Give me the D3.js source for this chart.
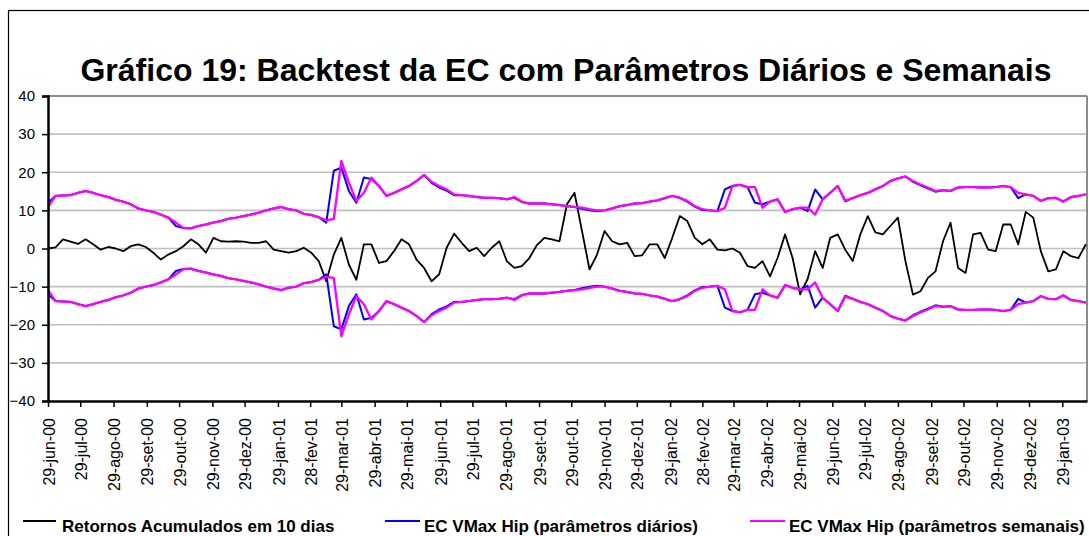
<!DOCTYPE html>
<html>
<head>
<meta charset="utf-8">
<script src="https://cdn.jsdelivr.net/npm/d3@7/dist/d3.min.js"></script>
<style>
  html, body { margin: 0; padding: 0; background: #fff; }
  svg { display: block; }
  text { font-family: "Liberation Sans", Arial, sans-serif; }
</style>
</head>
<body>
<svg id="chart" width="1089" height="536"></svg>
<script>
// ---------------- DATA ----------------
const titleText = "Gráfico 19: Backtest da EC com Parâmetros Diários e Semanais";
const seriesNames = ["Retornos Acumulados em 10 dias", "EC VMax Hip (parâmetros diários)", "EC VMax Hip (parâmetros semanais)"];
const yTicks = [-40, -30, -20, -10, 0, 10, 20, 30, 40];
const tickDates = ["2000-06-29","2000-07-29","2000-08-29","2000-09-29","2000-10-29","2000-11-29","2000-12-29",
  "2001-01-29","2001-02-28","2001-03-29","2001-04-29","2001-05-29","2001-06-29","2001-07-29","2001-08-29",
  "2001-09-29","2001-10-29","2001-11-29","2001-12-29","2002-01-29","2002-02-28","2002-03-29","2002-04-29",
  "2002-05-29","2002-06-29","2002-07-29","2002-08-29","2002-09-29","2002-10-29","2002-11-29","2002-12-29","2003-01-29"];
const tickLabels = ["29-jun-00","29-jul-00","29-ago-00","29-set-00","29-out-00","29-nov-00","29-dez-00",
  "29-jan-01","28-fev-01","29-mar-01","29-abr-01","29-mai-01","29-jun-01","29-jul-01","29-ago-01",
  "29-set-01","29-out-01","29-nov-01","29-dez-01","29-jan-02","28-fev-02","29-mar-02","29-abr-02",
  "29-mai-02","29-jun-02","29-jul-02","29-ago-02","29-set-02","29-out-02","29-nov-02","29-dez-02","29-jan-03"];
const firstDate = "2000-06-29";   // weekly observations
const lastAxisDate = "2003-02-21";
const stepDays = 7;

// Retornos acumulados em 10 dias (weekly readings)
const retornos = [0,0.3,2.4,1.8,1.2,2.4,1.1,-0.3,0.4,0,-0.7,0.6,1.1,0.4,-1.1,-2.9,-1.6,-0.7,0.6,2.4,
  1.1,-1.1,2.8,1.9,1.8,1.9,1.8,1.5,1.5,1.9,-0.3,-0.7,-1.1,-0.7,0.2,-1.1,-3.3,-8.6,-1.6,2.8,
  -4.2,-8.2,1.1,1.1,-3.8,-3.3,-0.7,2.4,1.1,-2.9,-5.1,-8.6,-6.8,0.2,3.9,1.5,-0.7,0.2,-2.0,0.2,
  1.9,-3.3,-5.1,-4.6,-2.5,0.9,2.8,2.4,1.9,11.6,14.6,4.6,-5.5,-1.6,4.6,1.9,1.1,1.5,-2.0,-1.8,
  1.1,1.1,-2.5,2.8,8.5,7.2,2.8,1.1,2.4,-0.3,-0.5,0,-1.1,-4.6,-5.1,-3.3,-7.3,-2.5,3.7,-2.5,
  -12.0,-8.0,-0.7,-5.1,2.8,3.7,-0.3,-3.3,3.7,8.5,4.2,3.7,5.9,8.1,-3.3,-12.1,-11.2,-7.7,-6.0,1.9,
  6.8,-5.1,-6.4,3.7,4.1,-0.3,-0.7,6.3,6.3,1.1,9.6,8.1,-0.7,-6.0,-5.5,-0.7,-2.0,-2.5,1.1];

// EC VMax Hip (parâmetros diários) - upper / lower
const diarioSup = [12.0,13.8,13.9,14.0,14.6,15.1,14.6,14.0,13.5,12.8,12.3,11.6,10.5,10.0,9.6,8.9,8.1,5.9,5.4,5.3,
  5.9,6.3,6.8,7.2,7.8,8.1,8.5,8.9,9.4,10.0,10.5,10.9,10.3,10.0,9.1,8.8,8.2,6.8,20.4,21.2,
  15.1,12.0,18.6,18.2,16.4,13.8,14.6,15.5,16.4,17.7,19.3,17.2,16.0,15.2,14.0,14.0,13.8,13.5,13.3,13.3,
  13.2,12.9,13.3,12.2,11.8,11.8,11.8,11.6,11.4,11.1,10.9,10.4,10.0,9.8,10.0,10.5,11.1,11.4,11.8,11.9,
  12.3,12.6,13.2,13.8,13.3,12.3,11.0,10.1,10.0,9.8,15.5,16.4,16.7,16.1,12.0,11.6,12.3,12.9,9.6,10.3,
  10.7,9.8,15.5,12.9,14.6,16.4,12.4,13.2,14.0,14.6,15.5,16.4,17.7,18.4,18.9,17.5,16.6,15.8,14.9,15.3,
  15.1,16.0,16.1,16.1,16.0,16.0,16.1,16.4,16.1,13.2,14.2,13.8,12.5,13.2,13.3,12.3,13.5,13.8,14.2];
const diarioInf = [-12.0,-13.8,-13.9,-14.0,-14.6,-15.1,-14.6,-14.0,-13.5,-12.8,-12.3,-11.6,-10.5,-10.0,-9.6,-8.9,-8.1,-5.9,-5.4,-5.3,
  -5.9,-6.3,-6.8,-7.2,-7.8,-8.1,-8.5,-8.9,-9.4,-10.0,-10.5,-10.9,-10.3,-10.0,-9.1,-8.8,-8.2,-6.8,-20.4,-21.2,
  -15.1,-12.0,-18.6,-18.2,-16.4,-13.8,-14.6,-15.5,-16.4,-17.7,-19.3,-17.2,-16.0,-15.2,-14.0,-14.0,-13.8,-13.5,-13.3,-13.3,
  -13.2,-12.9,-13.3,-12.2,-11.8,-11.8,-11.8,-11.6,-11.4,-11.1,-10.9,-10.4,-10.0,-9.8,-10.0,-10.5,-11.1,-11.4,-11.8,-11.9,
  -12.3,-12.6,-13.2,-13.8,-13.3,-12.3,-11.0,-10.1,-10.0,-9.8,-15.5,-16.4,-16.7,-16.1,-12.0,-11.6,-12.3,-12.9,-9.6,-10.3,
  -10.7,-9.8,-15.5,-12.9,-14.6,-16.4,-12.4,-13.2,-14.0,-14.6,-15.5,-16.4,-17.7,-18.4,-18.9,-17.5,-16.6,-15.8,-14.9,-15.3,
  -15.1,-16.0,-16.1,-16.1,-16.0,-16.0,-16.1,-16.4,-16.1,-13.2,-14.2,-13.8,-12.5,-13.2,-13.3,-12.3,-13.5,-13.8,-14.2];

// EC VMax Hip (parâmetros semanais) - upper / lower
const semanalSup = [10.9,13.8,13.9,14.0,14.6,15.1,14.6,14.0,13.5,12.8,12.3,11.6,10.5,10.0,9.6,8.9,8.1,6.8,5.4,5.3,
  5.9,6.3,6.8,7.2,7.8,8.1,8.5,8.9,9.4,10.0,10.5,10.9,10.3,10.0,9.1,8.8,8.2,7.4,7.8,23.0,
  17.3,12.5,14.6,18.6,16.4,13.8,14.6,15.5,16.4,17.7,19.3,17.5,16.4,15.5,14.2,14.0,13.8,13.5,13.3,13.3,
  13.2,12.9,13.5,12.3,11.8,11.8,11.8,11.6,11.4,11.1,10.9,10.7,10.3,10.0,10.0,10.5,11.1,11.4,11.8,11.9,
  12.3,12.6,13.2,13.8,13.3,12.5,11.1,10.3,10.0,9.8,10.7,16.4,16.7,16.1,16.1,10.7,12.3,12.9,9.6,10.3,
  10.7,10.7,8.9,12.9,14.6,16.4,12.6,13.2,14.0,14.6,15.5,16.4,17.7,18.4,18.9,17.7,16.8,16.0,15.1,15.3,
  15.1,16.0,16.1,16.1,16.0,16.0,16.1,16.4,16.1,14.6,14.2,13.8,12.5,13.2,13.3,12.3,13.5,13.8,14.2];
const semanalInf = [-10.9,-13.8,-13.9,-14.0,-14.6,-15.1,-14.6,-14.0,-13.5,-12.8,-12.3,-11.6,-10.5,-10.0,-9.6,-8.9,-8.1,-6.8,-5.4,-5.3,
  -5.9,-6.3,-6.8,-7.2,-7.8,-8.1,-8.5,-8.9,-9.4,-10.0,-10.5,-10.9,-10.3,-10.0,-9.1,-8.8,-8.2,-7.4,-7.8,-23.0,
  -17.3,-12.5,-14.6,-18.6,-16.4,-13.8,-14.6,-15.5,-16.4,-17.7,-19.3,-17.5,-16.4,-15.5,-14.2,-14.0,-13.8,-13.5,-13.3,-13.3,
  -13.2,-12.9,-13.5,-12.3,-11.8,-11.8,-11.8,-11.6,-11.4,-11.1,-10.9,-10.7,-10.3,-10.0,-10.0,-10.5,-11.1,-11.4,-11.8,-11.9,
  -12.3,-12.6,-13.2,-13.8,-13.3,-12.5,-11.1,-10.3,-10.0,-9.8,-10.7,-16.4,-16.7,-16.1,-16.1,-10.7,-12.3,-12.9,-9.6,-10.3,
  -10.7,-10.7,-8.9,-12.9,-14.6,-16.4,-12.6,-13.2,-14.0,-14.6,-15.5,-16.4,-17.7,-18.4,-18.9,-17.7,-16.8,-16.0,-15.1,-15.3,
  -15.1,-16.0,-16.1,-16.1,-16.0,-16.0,-16.1,-16.4,-16.1,-14.6,-14.2,-13.8,-12.5,-13.2,-13.3,-12.3,-13.5,-13.8,-14.2];

// ---------------- CHART ----------------
const svg = d3.select("#chart");
const W = 1089, H = 536;
const plot = { left: 48, right: 1087, top: 96, bottom: 401 };
const parse = d3.timeParse("%Y-%m-%d");
const start = parse(firstDate);
const dates = retornos.map((_, i) => d3.timeDay.offset(start, i * stepDays));

const x = d3.scaleTime().domain([start, parse(lastAxisDate)]).range([plot.left, plot.right]);
const y = d3.scaleLinear().domain([-40, 40]).range([plot.bottom, plot.top]);

// outer frame
svg.append("rect").attr("x", 8.5).attr("y", 10.5).attr("width", W + 20).attr("height", H + 20)
  .attr("fill", "none").attr("stroke", "#000").attr("stroke-width", 1.2);

// title
svg.append("text").attr("x", 566).attr("y", 81).attr("text-anchor", "middle")
  .attr("font-size", 32).attr("font-weight", "bold").attr("fill", "#000").text(titleText);

// gridlines
svg.append("g").selectAll("line").data(yTicks.filter(d => d !== -40)).join("line")
  .attr("x1", plot.left).attr("x2", plot.right)
  .attr("y1", d => y(d)).attr("y2", d => y(d))
  .attr("stroke", d => d === 40 ? "#8c8c8c" : "#c0c0c0")
  .attr("stroke-width", d => d === 40 ? 2.2 : 1.6);

// right border of plot area
svg.append("line").attr("x1", plot.right).attr("x2", plot.right).attr("y1", plot.top).attr("y2", plot.bottom)
  .attr("stroke", "#8c8c8c").attr("stroke-width", 2);

// series
const line = d3.line().x((d, i) => x(dates[i])).y(d => y(d));
const addLine = (arr, color, w) => svg.append("path").datum(arr).attr("d", line)
  .attr("fill", "none").attr("stroke", color).attr("stroke-width", w).attr("stroke-linejoin", "round");
addLine(retornos, "#000000", 1.8);
addLine(diarioSup, "#0000ff", 2);
addLine(diarioInf, "#0000ff", 2);
addLine(semanalSup, "#ff00ff", 2.3);
addLine(semanalInf, "#ff00ff", 2.3);

// y axis
const yAxis = svg.append("g").attr("transform", `translate(${plot.left},0)`)
  .call(d3.axisLeft(y).tickValues(yTicks).tickSize(6).tickPadding(7).tickFormat(d3.format("d")));
yAxis.select(".domain").attr("stroke", "#000").attr("stroke-width", 2.5);
yAxis.selectAll(".tick line").attr("stroke", "#000").attr("stroke-width", 1.5);
yAxis.selectAll(".tick text").attr("font-size", 15).attr("fill", "#000")
  .style("font-family", '"Liberation Sans", Arial, sans-serif');

// x axis
const xAxis = svg.append("g").attr("transform", `translate(0,${plot.bottom})`)
  .call(d3.axisBottom(x).tickValues(tickDates.map(parse)).tickSize(6).tickSizeOuter(0)
    .tickFormat((d, i) => tickLabels[i]));
xAxis.select(".domain").attr("stroke", "#000").attr("stroke-width", 2.5);
xAxis.selectAll(".tick line").attr("stroke", "#000").attr("stroke-width", 1.5);
xAxis.selectAll(".tick text")
  .attr("font-size", 16).attr("fill", "#000")
  .style("font-family", '"Liberation Sans", Arial, sans-serif')
  .attr("text-anchor", "end")
  .attr("transform", "rotate(-90)")
  .attr("x", -17).attr("y", 0).attr("dy", "0.38em");

// legend
const legend = [
  { name: seriesNames[0], color: "#000000", x1: 23, x2: 56, tx: 62 },
  { name: seriesNames[1], color: "#0000ff", x1: 385, x2: 420, tx: 424 },
  { name: seriesNames[2], color: "#ff00ff", x1: 750, x2: 785, tx: 789 }
];
const lg = svg.append("g");
legend.forEach(l => {
  lg.append("line").attr("x1", l.x1).attr("x2", l.x2).attr("y1", 521).attr("y2", 521)
    .attr("stroke", l.color).attr("stroke-width", 2);
  lg.append("text").attr("x", l.tx).attr("y", 531.5).attr("font-size", 17).attr("font-weight", "bold")
    .attr("fill", "#000").text(l.name);
});
</script>
</body>
</html>
